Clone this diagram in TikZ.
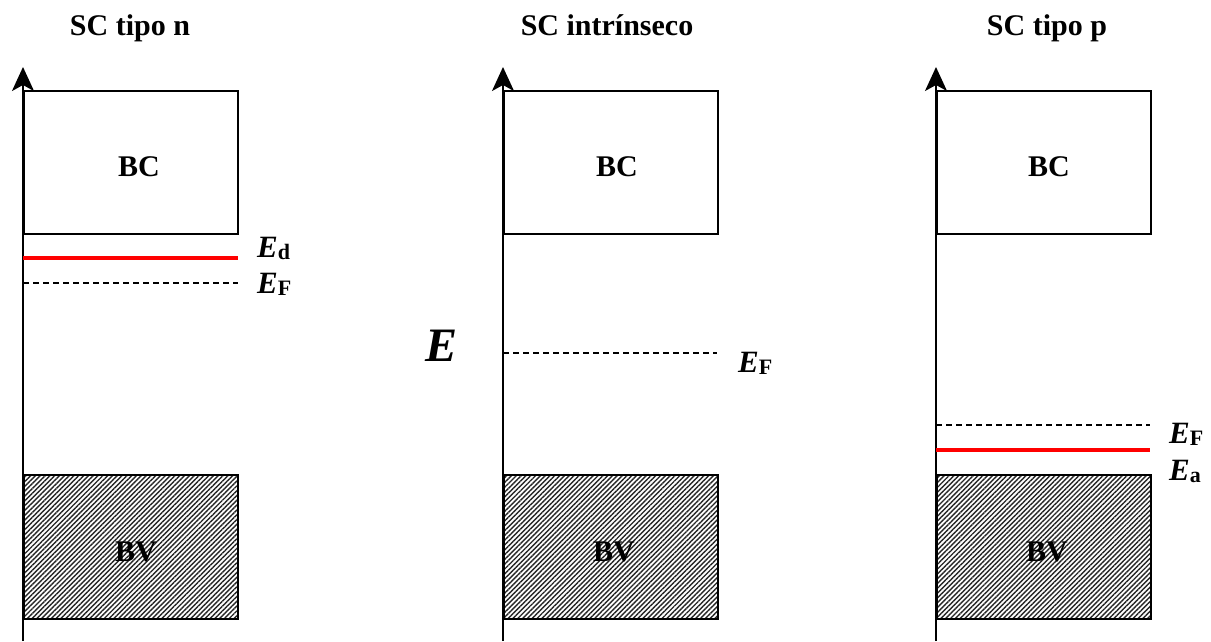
\documentclass[tikz,border=0pt]{standalone}
\usepackage{fontspec}
\setmainfont{Liberation Serif}
\usetikzlibrary{arrows.meta,patterns.meta}
\tikzset{
  axisline/.style={line width=1.8pt,-{Stealth[length=24pt,width=22pt,inset=6pt]}},
  bandbox/.style={draw=black,line width=1.6pt,rectangle,inner sep=0pt,minimum width=214pt,anchor=north west},
  valence/.style={bandbox,minimum height=144pt,
    pattern={Lines[angle=45,distance=3.4pt,line width=1.4pt]},pattern color=black!85},
  conduction/.style={bandbox,minimum height=143pt,fill=white},
  fermi/.style={line width=1.3pt,dash pattern=on 6pt off 4pt},
  impurity/.style={draw=red,line width=3.5pt},
  title/.style={font=\fontsize{30}{32}\selectfont\bfseries,anchor=base},
  bandlbl/.style={font=\fontsize{30}{32}\selectfont\bfseries},
  elbl/.style={font=\fontsize{31}{33}\selectfont\bfseries,anchor=base west,inner sep=0pt}
}
\newcommand{\Elbl}[1]{\textit{E}\raisebox{-0.2ex}{\fontsize{22}{24}\selectfont #1}}
\begin{document}
\begin{tikzpicture}[x=1pt,y=-1pt]
\useasboundingbox (0,0) rectangle (1211,641);
% titles
\node[title] (t1) at (130,35) {SC tipo n};
\node[title] (t2) at (607,35) {SC intrínseco};
\node[title] (t3) at (1047,35) {SC tipo p};
% ---------- panel n ----------
\coordinate (a1b) at (23,641);
\coordinate (a1t) at (23,67);
\node[conduction] (bc1) at (23,90) {};
\node[valence] (bv1) at (23,474) {};
\draw[axisline] (a1b) -- (a1t);
\node[bandlbl] (bc1l) at (139,167) {BC};
\node[bandlbl] (bv1l) at (136,552) {BV};
\coordinate (ed1a) at (23,258); \coordinate (ed1b) at (238,258);
\draw[impurity] (ed1a) -- (ed1b);
\coordinate (ef1a) at (23,283); \coordinate (ef1b) at (238,283);
\draw[fermi] (ef1a) -- (ef1b);
\node[elbl] (ed1l) at (257,257) {\Elbl{d}};
\node[elbl] (ef1l) at (257,293) {\Elbl{F}};
% ---------- panel intrinsic ----------
\coordinate (a2b) at (503,641);
\coordinate (a2t) at (503,67);
\node[conduction] (bc2) at (503,90) {};
\node[valence] (bv2) at (503,474) {};
\draw[axisline] (a2b) -- (a2t);
\node[bandlbl] (bc2l) at (617,167) {BC};
\node[bandlbl] (bv2l) at (614,552) {BV};
\coordinate (ef2a) at (503,353); \coordinate (ef2b) at (717,353);
\draw[fermi] (ef2a) -- (ef2b);
\node[elbl] (ef2l) at (738,372) {\Elbl{F}};
\node[font=\fontsize{48}{50}\selectfont\bfseries\itshape,anchor=base,inner sep=0pt] (bigE) at (442,361) {E};
% ---------- panel p ----------
\coordinate (a3b) at (936,641);
\coordinate (a3t) at (936,67);
\node[conduction] (bc3) at (936,90) {};
\node[valence] (bv3) at (936,474) {};
\draw[axisline] (a3b) -- (a3t);
\node[bandlbl] (bc3l) at (1049,167) {BC};
\node[bandlbl] (bv3l) at (1047,552) {BV};
\coordinate (ef3a) at (936,425); \coordinate (ef3b) at (1150,425);
\draw[fermi] (ef3a) -- (ef3b);
\coordinate (ea3a) at (936,450); \coordinate (ea3b) at (1150,450);
\draw[impurity] (ea3a) -- (ea3b);
\node[elbl] (ef3l) at (1169,443) {\Elbl{F}};
\node[elbl] (ea3l) at (1169,480) {\Elbl{a}};
\end{tikzpicture}
\end{document}
